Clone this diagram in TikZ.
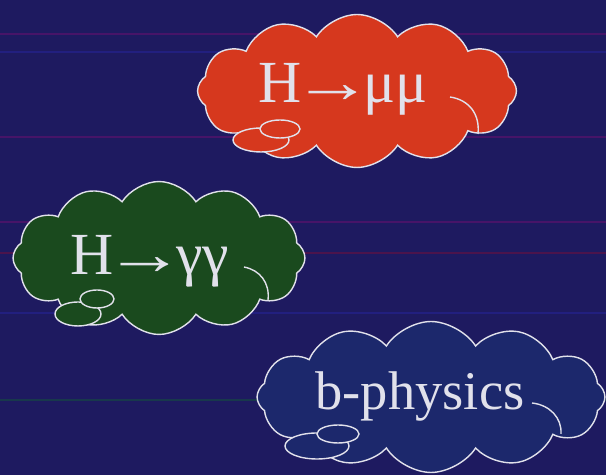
\documentclass[tikz,border=0pt]{standalone}
\usepackage{fontspec}
\setmainfont{Liberation Serif}
\usepackage{xcolor}
\usetikzlibrary{shapes.symbols, positioning}

\definecolor{nightbg}{RGB}{30,26,96}
\definecolor{cloudred}{RGB}{214,56,30}
\definecolor{cloudgreen}{RGB}{26,74,30}
\definecolor{cloudblue}{RGB}{28,40,108}
\definecolor{rimwhite}{RGB}{225,225,235}

\newcommand{\longto}{\kern-0.15em\scalebox{1.35}[1]{→}\kern-0.15em}

\begin{document}
\begin{tikzpicture}[x=0.02cm, y=-0.02cm,
    bubble/.style={draw=rimwhite, line width=0.8pt, cloud, cloud puffs=12,
        cloud puff arc=115, aspect=2.1, inner sep=0pt},
    puff/.style={draw=rimwhite, line width=0.8pt},
    cloudtext/.style={text=rimwhite, anchor=base, inner sep=0pt}]
    % Fundal
    \fill[nightbg] (0,0) rectangle (606,475);
    \useasboundingbox (0,0) rectangle (606,475);
    % Linii
    \foreach \yy/\cc in {34/magenta, 52/blue!80!white, 137/magenta, 222/magenta, 253/red, 313/blue!80!white, 400/green!70!black}
        \draw[\cc, opacity=0.2, line width=0.6pt] (0,\yy) -- (606,\yy);

    % Nori
    \node[bubble, fill=cloudred, minimum width=6.38cm, minimum height=3.06cm] (mumu) at (357,91) {};
    \node[bubble, fill=cloudgreen, minimum width=5.84cm, minimum height=3.06cm] (gaga) at (159,258) {};
    \node[bubble, fill=cloudblue, minimum width=6.96cm, minimum height=3.02cm] (bphys) at (431,397) {};

    % Bule mici
    \draw[puff, fill=cloudred] (261,140) ellipse (28 and 12);
    \draw[puff, fill=cloudred] (280,129) ellipse (20 and 9);
    \draw[puff, fill=cloudgreen] (78,314) ellipse (23 and 12);
    \draw[puff, fill=cloudgreen] (97,299) ellipse (17 and 9);
    \draw[puff, fill=cloudblue] (317,446) ellipse (32 and 13);
    \draw[puff, fill=cloudblue] (338,434) ellipse (21 and 9);

    % Arce interioare
    \draw[puff] (450,97) .. controls (470,100) and (480,115) .. (478,134);
    \draw[puff] (244,267) .. controls (260,270) and (270,283) .. (268,300);
    \draw[puff] (532,403) .. controls (550,405) and (562,418) .. (561,434);

    % Texte
    \node[cloudtext, font=\fontsize{34}{34}\selectfont] (t1) at (343,103) {H\longto μμ};
    \node[cloudtext, font=\fontsize{34}{34}\selectfont] (t2) at (150,275) {H\longto γγ};
    \node[cloudtext, font=\fontsize{31}{31}\selectfont] (t3) at (420,410) {b-physics};
\end{tikzpicture}
\end{document}
